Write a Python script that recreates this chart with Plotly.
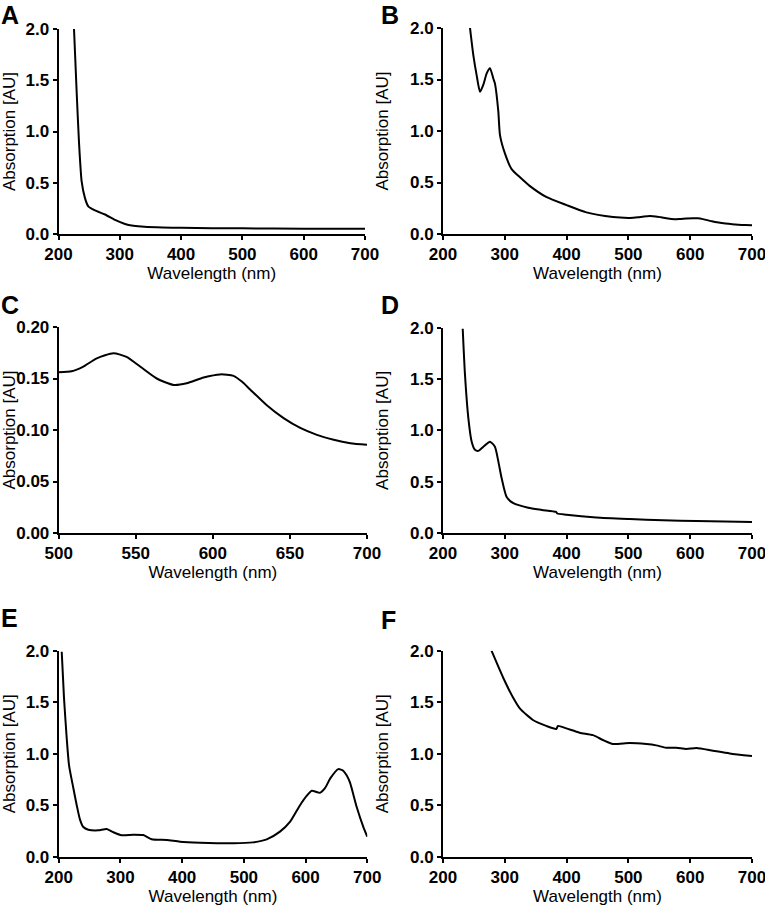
import plotly.graph_objects as go

# ---------------- data ----------------
wl_a = [225.3, 229.6, 233.4, 237.8, 243.2, 248.6, 259.5, 275.9, 292.2, 308.5, 322, 340, 370, 400, 450, 500, 600, 700]
abs_a = [2.0, 1.39, 0.90, 0.51, 0.35, 0.27, 0.23, 0.19, 0.137, 0.098, 0.081, 0.07, 0.063, 0.06, 0.057, 0.055, 0.052, 0.05]

wl_b = [243.7, 249, 254.5, 259.9, 265.3, 270.7, 276, 281.4, 284.1, 289.5, 292.2, 300.3, 311, 324.6, 339.7, 367, 400, 432, 475,
        500, 508, 516, 525, 535, 544, 553, 564, 575, 583, 594, 605, 613, 619, 624, 635, 646, 657, 668, 678, 689, 700]
abs_b = [2.0, 1.74, 1.54, 1.38, 1.45, 1.56, 1.61, 1.51, 1.46, 1.19, 0.96, 0.78, 0.63, 0.55, 0.47, 0.36, 0.28, 0.21, 0.165,
         0.156, 0.157, 0.162, 0.170, 0.1745, 0.171, 0.162, 0.150, 0.144, 0.145, 0.151, 0.154, 0.1525, 0.147, 0.1396, 0.124, 0.1115, 0.102, 0.095, 0.0905, 0.087, 0.0856]

wl_c = [500, 508.4, 516, 524.7, 535.5, 544, 552.8, 563.6, 574.5, 583, 594, 604.8, 613.4, 618.8, 624, 635, 645.9, 656.7, 667.5, 678.4, 689.2, 700]
abs_c = [0.156, 0.157, 0.1616, 0.1696, 0.1745, 0.171, 0.1616, 0.150, 0.1438, 0.1454, 0.151, 0.154, 0.1525, 0.147, 0.1396, 0.124, 0.1115, 0.102, 0.0953, 0.0905, 0.0872, 0.0856]

wl_d = [231.9, 235.6, 241, 246.4, 251.8, 257.2, 265.3, 276, 284, 289.6, 295, 303, 313.8, 338, 360, 383, 385, 400, 448, 502, 556, 610, 700]
abs_d = [1.99, 1.54, 1.12, 0.89, 0.81, 0.80, 0.84, 0.89, 0.84, 0.695, 0.53, 0.35, 0.29, 0.246, 0.225, 0.205, 0.19, 0.178, 0.152, 0.136, 0.123, 0.117, 0.107]

wl_e = [204.9, 208.6, 213, 216.7, 223.7, 229.2, 234.5, 239.9, 248, 264.2, 277.8, 288.6, 302, 321, 337, 350.6, 375, 396.5, 429, 483,
        515, 537, 558.5, 575, 591, 601.7, 610, 623, 631.4, 640, 653, 661, 666.5, 672, 682.7, 693.5, 700]
abs_e = [1.99, 1.54, 1.15, 0.89, 0.667, 0.50, 0.36, 0.288, 0.262, 0.256, 0.269, 0.237, 0.208, 0.214, 0.21, 0.17, 0.162, 0.146, 0.136, 0.13,
         0.139, 0.168, 0.243, 0.34, 0.50, 0.59, 0.64, 0.62, 0.665, 0.76, 0.85, 0.835, 0.79, 0.72, 0.485, 0.29, 0.194]

wl_f = [278.5, 297.6, 313.8, 324.6, 345.6, 367, 383.4, 386, 399.6, 421, 442.7, 458.8, 475, 502, 529, 545, 561, 577.6, 593.7, 610, 637, 664, 700]
abs_f = [2.0, 1.735, 1.54, 1.437, 1.327, 1.27, 1.24, 1.27, 1.246, 1.204, 1.18, 1.133, 1.094, 1.104, 1.094, 1.081, 1.058, 1.058, 1.045, 1.055, 1.029, 1.003, 0.977]

panel_letters = ["A", "B", "C", "D", "E", "F"]
x_title = "Wavelength (nm)"
y_title = "Absorption [AU]"

# ---------------- layout ----------------
W, H = 765, 906
FONT = "Arial, Liberation Sans, Helvetica, sans-serif"

# pixel boxes: (left, right, top, bottom)
boxes = [
    (58.5, 365, 29, 234),
    (443, 752, 28, 234),
    (58.7, 367, 327, 533),
    (443, 752, 327.7, 533),
    (58.7, 367.3, 650.7, 856.7),
    (443, 752, 650.7, 856.7),
]
series = [(wl_a, abs_a), (wl_b, abs_b), (wl_c, abs_c), (wl_d, abs_d), (wl_e, abs_e), (wl_f, abs_f)]
xranges = [[200, 700], [200, 700], [500, 700], [200, 700], [200, 700], [200, 700]]
yranges = [[0, 2.0], [0, 2.0], [0, 0.20], [0, 2.0], [0, 2.0], [0, 2.0]]
xdticks = [100, 100, 50, 100, 100, 100]
ydticks = [0.5, 0.5, 0.05, 0.5, 0.5, 0.5]
yfmts = [".1f", ".1f", ".2f", ".1f", ".1f", ".1f"]
ystandoffs = [17, 17, 4, 17, 17, 17]
# (left px, top px) of each letter's text box
letter_pos = [(0, 0), (380, 0), (0, 290), (380, 290), (0, 603), (380, 605)]

fig = go.Figure()
layout = dict(
    width=W, height=H, margin=dict(l=0, r=0, t=0, b=0),
    paper_bgcolor="white", plot_bgcolor="white", showlegend=False,
    font=dict(family=FONT, color="black"),
)

for i, ((xs, ys), (l, r, t, b)) in enumerate(zip(series, boxes)):
    n = "" if i == 0 else str(i + 1)
    xa, ya = "x" + n, "y" + n
    fig.add_trace(go.Scatter(x=xs, y=ys, mode="lines", xaxis=xa, yaxis=ya,
                             line=dict(color="black", width=2, shape="spline", smoothing=0.6)))
    common = dict(showline=True, linecolor="black", linewidth=2, ticks="outside", ticklen=4,
                  tickwidth=2, tickcolor="black", showgrid=False, zeroline=False, automargin=False,
                  ticklabeloverflow="allow",
                  tickfont=dict(family=FONT, size=17, color="black", weight="bold"))
    layout["xaxis" + n] = dict(
        domain=[l / W, r / W], anchor=ya, range=xranges[i], tick0=xranges[i][0], dtick=xdticks[i],
        title=dict(text=x_title, font=dict(family=FONT, size=17, color="black"), standoff=1),
        **common)
    layout["yaxis" + n] = dict(
        domain=[1 - b / H, 1 - t / H], anchor=xa, range=yranges[i], tick0=0, dtick=ydticks[i],
        tickformat=yfmts[i],
        title=dict(text=y_title, font=dict(family=FONT, size=17, color="black"), standoff=ystandoffs[i]),
        **common)

annotations = []
for letter, (px, py) in zip(panel_letters, letter_pos):
    annotations.append(dict(text="<b>" + letter + "</b>", x=px / W, y=1 - py / H, xref="paper", yref="paper",
                            xanchor="left", yanchor="top", showarrow=False, borderpad=0,
                            font=dict(family=FONT, size=25, color="black")))
layout["annotations"] = annotations

fig.update_layout(**layout)
fig.write_html("out.html", config={"displayModeBar": False},
               post_script="document.body.style.margin='0';")
